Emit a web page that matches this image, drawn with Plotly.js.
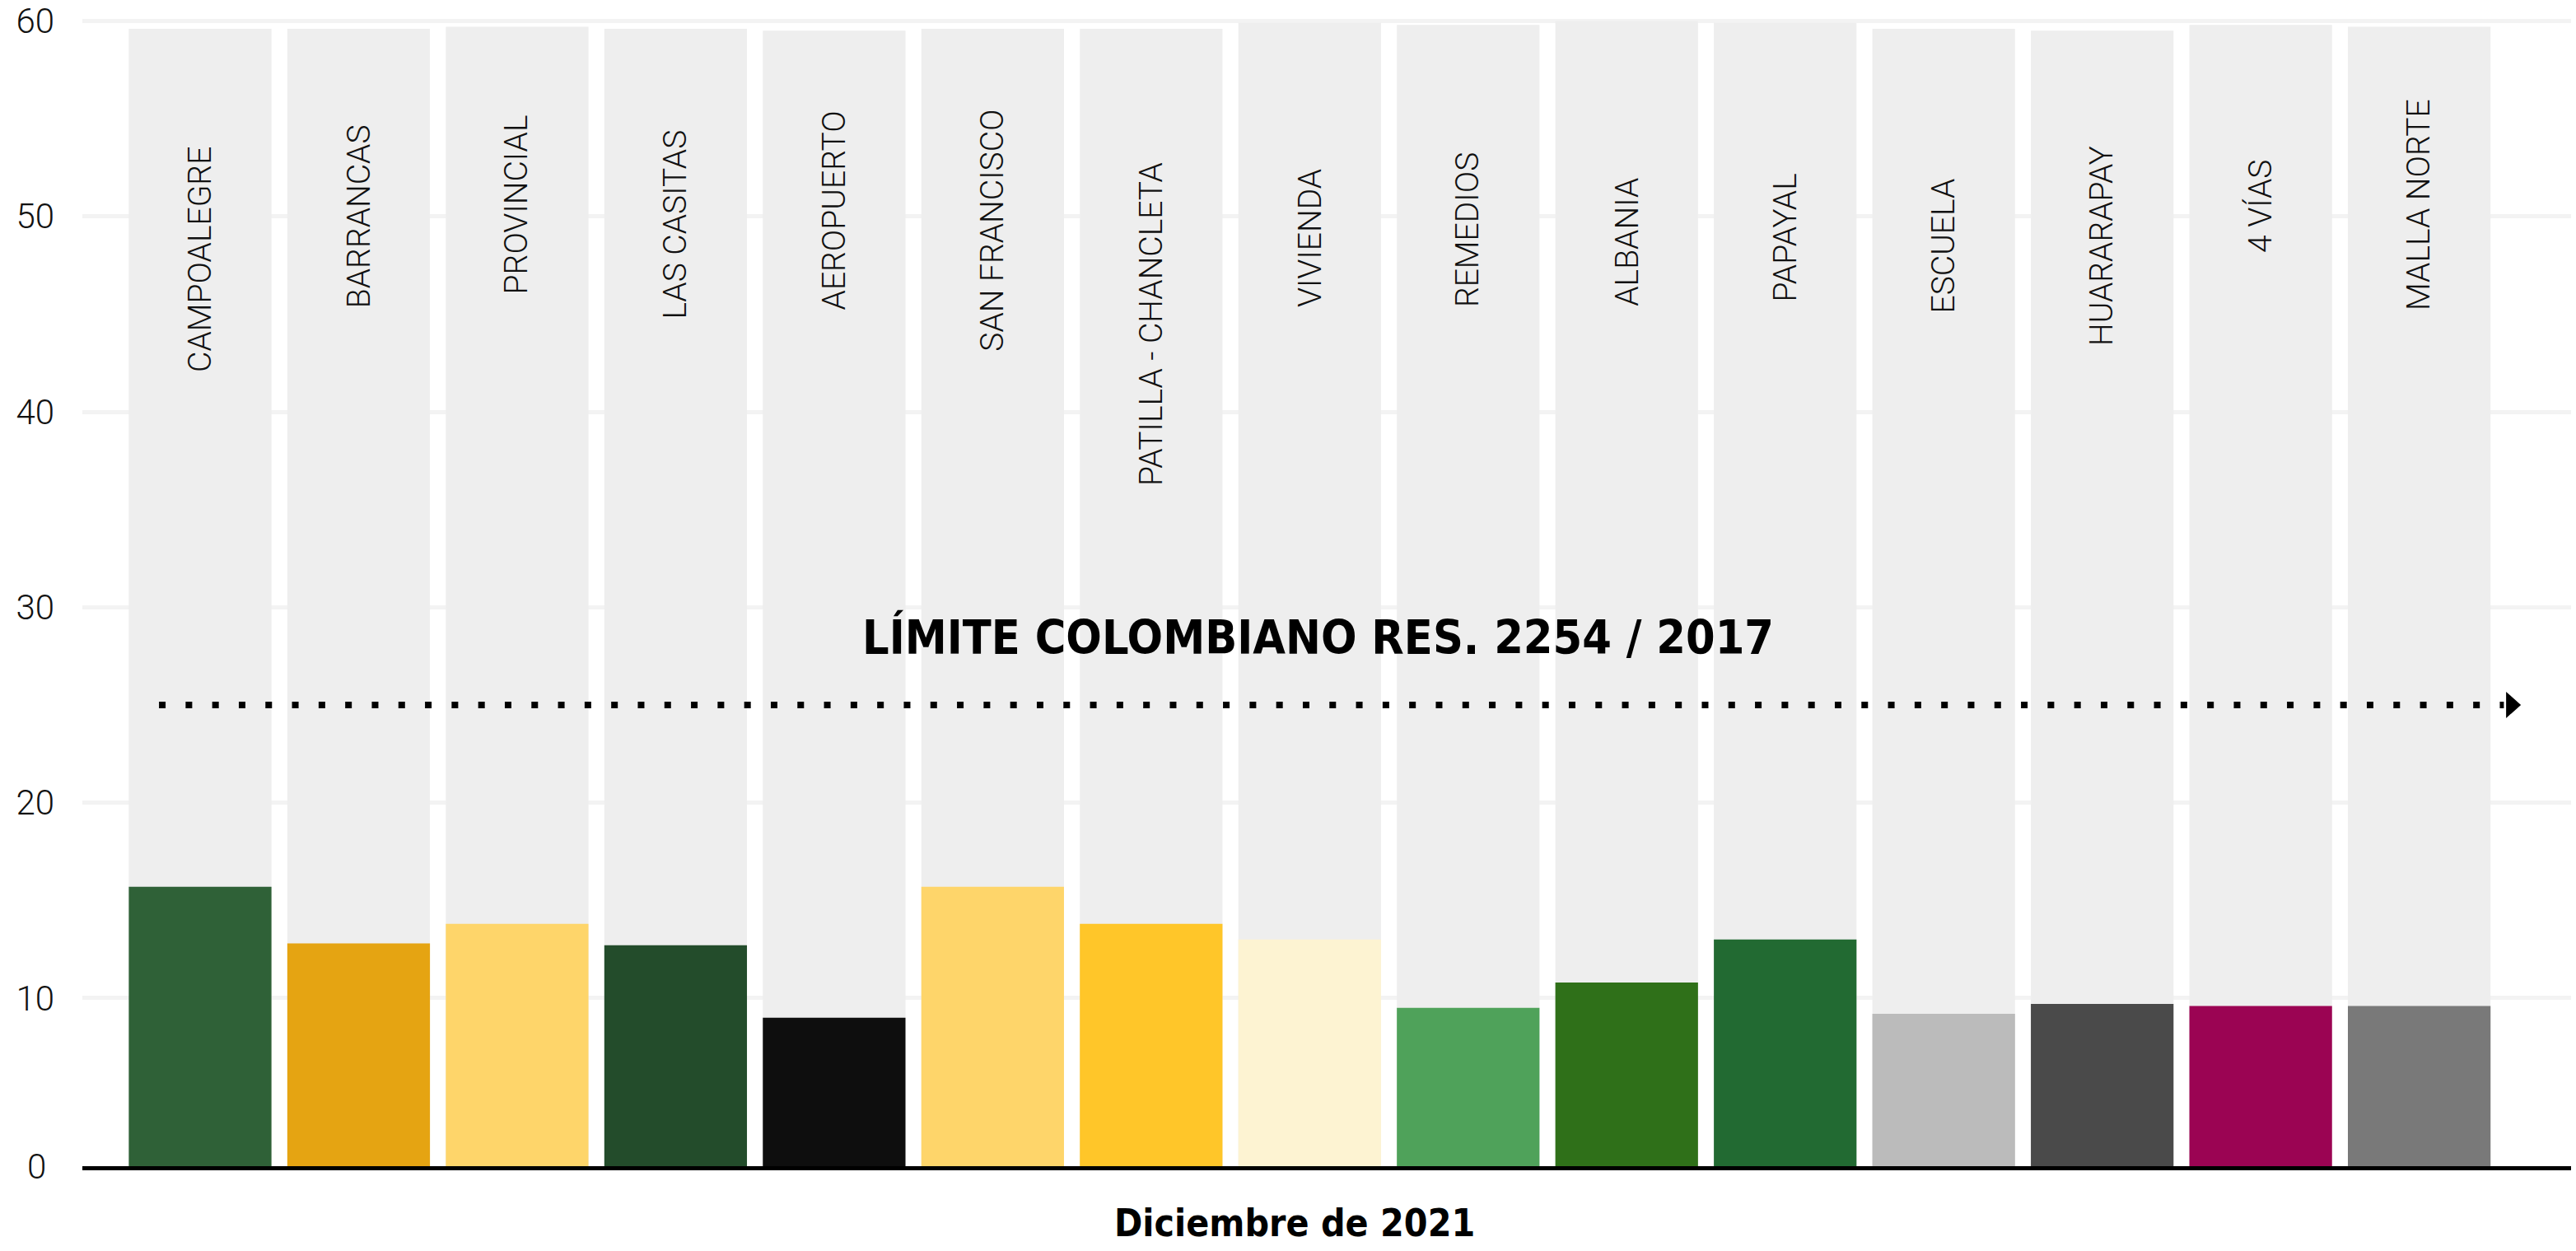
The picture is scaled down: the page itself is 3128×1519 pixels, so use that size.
<!DOCTYPE html>
<html>
<head>
<meta charset="utf-8">
<script src="https://cdn.plot.ly/plotly-3.0.1.min.js"></script>
<style>
  html, body { margin: 0; padding: 0; background: #ffffff; }
  #chart { width: 3128px; height: 1519px; }
</style>
</head>
<body>
<div id="chart"></div>
<script>
// ---- Data ----
const categories = [
  'CAMPOALEGRE', 'BARRANCAS', 'PROVINCIAL', 'LAS CASITAS', 'AEROPUERTO',
  'SAN FRANCISCO', 'PATILLA - CHANCLETA', 'VIVIENDA', 'REMEDIOS', 'ALBANIA',
  'PAPAYAL', 'ESCUELA', 'HUARARAPAY', '4 VÍAS', 'MALLA NORTE'
];
const values = [15.7, 12.8, 13.8, 12.7, 9.0, 15.7, 13.8, 13.0, 9.5, 10.8, 13.0, 9.2, 9.7, 9.6, 9.6];
const backgroundValues = [59.6, 59.6, 59.7, 59.6, 59.5, 59.6, 59.6, 59.9, 59.8, 60.0, 59.9, 59.6, 59.5, 59.8, 59.7];
const limitValue = 25;
const limitLabel = 'LÍMITE COLOMBIANO RES. 2254 / 2017';
const xTitle = 'Diciembre de 2021';
const yTickVals = [10, 20, 30, 40, 50, 60];
const yTickText = ['10', '20', '30', '40', '50', '60'];
const baselineLabel = '0';

// ---- Styles ----
const barColors = [
  '#2f6137', '#e5a412', '#fed56a', '#234c2b', '#0e0e0e',
  '#fed56a', '#ffc629', '#fdf3d2', '#4fa25a', '#2f7019',
  '#226a32', '#bbbbbb', '#4a4a4a', '#9b0453', '#797979'
];
// vertical centre of each station label (layout placement, axis units)
const labelCenters = [47.8, 50.0, 50.6, 49.6, 50.3, 49.3, 44.5, 48.9, 49.3, 48.7, 48.9, 48.5, 48.5, 50.5, 50.6];

const lightFont = { family: 'Roboto, "Liberation Sans", sans-serif', size: 42, color: '#111111', weight: 300 };
const labelFont = { family: 'Roboto, "Liberation Sans", sans-serif', size: 39, color: '#111111', weight: 300 };
const boldNarrow = '"Liberation Sans Narrow", "DejaVu Sans Condensed", "Arial Narrow", sans-serif';

const traces = [
  {
    type: 'bar', x: categories, y: backgroundValues,
    marker: { color: '#eeeeee', line: { width: 0 } },
    hoverinfo: 'skip', showlegend: false
  },
  {
    type: 'bar', x: categories, y: values,
    marker: { color: barColors, line: { width: 0 } },
    hoverinfo: 'x+y', showlegend: false
  }
];

const annotations = categories.map((c, i) => ({
  x: c, y: labelCenters[i], xref: 'x', yref: 'y',
  text: c, textangle: -90, showarrow: false,
  xanchor: 'center', yanchor: 'middle', font: labelFont
}));

annotations.push({
  x: 0.4964, y: 28.46, xref: 'paper', yref: 'y',
  text: '<b>' + limitLabel + '</b>', showarrow: false,
  xanchor: 'center', yanchor: 'middle',
  font: { family: boldNarrow, size: 57, color: '#000000' }
});
annotations.push({
  x: 0.487, y: -0.0485, xref: 'paper', yref: 'paper',
  text: '<b>' + xTitle + '</b>', showarrow: false,
  xanchor: 'center', yanchor: 'middle',
  font: { family: boldNarrow, size: 46, color: '#000000' }
});
annotations.push({
  x: 0, y: 0, xref: 'paper', yref: 'paper', xshift: -56,
  text: baselineLabel, showarrow: false,
  xanchor: 'center', yanchor: 'middle', font: lightFont
});

const shapes = [
  {
    type: 'line', xref: 'paper', yref: 'y',
    x0: 0.0308, x1: 0.973, y0: limitValue, y1: limitValue,
    line: { color: '#000000', width: 8, dash: '8px,24.3px' }
  },
  {
    type: 'path', xref: 'paper', yref: 'y',
    xsizemode: 'pixel', ysizemode: 'pixel',
    xanchor: 0.9739, yanchor: limitValue,
    path: 'M0,16 L18,0 L0,-16 Z',
    fillcolor: '#000000', line: { width: 0 }
  }
];

const layout = {
  width: 3128, height: 1519,
  margin: { l: 100, r: 6, t: 0, b: 103, pad: 0 },
  paper_bgcolor: '#ffffff', plot_bgcolor: '#ffffff',
  barmode: 'overlay', bargap: 0.1,
  showlegend: false,
  xaxis: {
    type: 'category', range: [-0.743, 14.958],
    showticklabels: false, ticks: '', showgrid: false, zeroline: false,
    showline: true, linecolor: '#000000', linewidth: 5,
    fixedrange: true
  },
  yaxis: {
    range: [1.4, 61.07],
    tickvals: yTickVals, ticktext: yTickText,
    ticks: '', ticklabelstandoff: 33,
    tickfont: lightFont,
    showgrid: true, gridcolor: '#f3f3f3', gridwidth: 5,
    zeroline: false, showline: false, fixedrange: true
  },
  annotations: annotations,
  shapes: shapes
};

Plotly.newPlot('chart', traces, layout, { displayModeBar: false, staticPlot: true });
</script>
</body>
</html>
